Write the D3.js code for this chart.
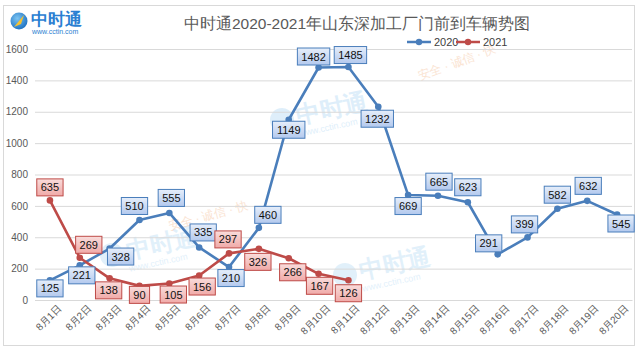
<!DOCTYPE html>
<html>
<head>
<meta charset="utf-8">
<script src="https://cdn.jsdelivr.net/npm/d3@7"></script>
<style>
  body { margin: 0; background: #fff; }
  text { font-family: "Liberation Sans", Arial, sans-serif; }
</style>
</head>
<body>
<script>
const days = ["8月1日","8月2日","8月3日","8月4日","8月5日","8月6日","8月7日","8月8日","8月9日","8月10日",
              "8月11日","8月12日","8月13日","8月14日","8月15日","8月16日","8月17日","8月18日","8月19日","8月20日"];
const v2020 = [125,221,328,510,555,335,210,460,1149,1482,1485,1232,669,665,623,291,399,582,632,545];
const v2021 = [635,269,138,90,105,156,297,326,266,167,126];
const yTicks = [0,200,400,600,800,1000,1200,1400,1600];
const title = "中时通2020-2021年山东深加工厂门前到车辆势图";

// label placement (offset from point)
const lab2020 = [[0,8],[2,10],[11,8],[-5,-14],[2,-15],[4,-15],[2,11],[9,-13],[0,10],[-5,-11],
                 [2,-12],[-1,12],[0,11],[1,-14],[0,-15],[-9,-11],[-3,-13],[0,-14],[1,-15],[4,9]];
const lab2021 = [[0,-13],[9,-13],[-1,12],[0,9],[4,11],[3,11],[-1,-14],[-1,13],[4,14],[1,12],[0,13]];

const W = 640, H = 352;
const svg = d3.select("body").append("svg").attr("width", W).attr("height", H);

const defs = svg.append("defs");
function grad(id, c1, c2) {
  const g = defs.append("linearGradient").attr("id", id).attr("x1",0).attr("y1",0).attr("x2",0).attr("y2",1);
  g.append("stop").attr("offset","0%").attr("stop-color",c1);
  g.append("stop").attr("offset","100%").attr("stop-color",c2);
}
grad("gBlue", "#e6eefa", "#b3c9ee");
grad("gRed", "#f9dcdb", "#f0aaa8");
const rg = defs.append("radialGradient").attr("id","gGlobe").attr("cx","40%").attr("cy","35%").attr("r","70%");
rg.append("stop").attr("offset","0%").attr("stop-color","#7cc4f2");
rg.append("stop").attr("offset","100%").attr("stop-color","#1a6fc0");

// outer frame
svg.append("rect").attr("x",3.5).attr("y",5.5).attr("width",631).attr("height",340)
  .attr("fill","#fff").attr("stroke","#d9d9d9");

const x = d3.scaleBand().domain(days).range([35, 632]);
const y = d3.scaleLinear().domain([0,1600]).range([300, 49]);
const cx = d => x(d) + x.bandwidth()/2;

// watermarks
function mark(px, py, s, op) {
  const g = svg.append("g").attr("transform", `translate(${px},${py}) rotate(-12) scale(${s})`).attr("opacity", op);
  g.append("circle").attr("cx",0).attr("cy",0).attr("r",12).attr("fill","#8cc6ef");
  g.append("text").attr("x",15).attr("y",7).attr("font-size",24).attr("font-weight","bold").attr("fill","#8cc6ef").text("中时通");
  g.append("text").attr("x",14).attr("y",20).attr("font-size",9).attr("fill","#8cc6ef").text("www.cctin.com");
}
mark(282, 120, 1.0, 0.28);
mark(112, 255, 1.0, 0.25);
mark(345, 275, 1.0, 0.25);
svg.append("text").attr("x",420).attr("y",80).attr("font-size",12).attr("fill","#f7c9a6").attr("opacity",0.5)
  .attr("transform","rotate(-20,420,80)").text("安全 · 诚信 · 快");
svg.append("text").attr("x",170).attr("y",230).attr("font-size",12).attr("fill","#f7c9a6").attr("opacity",0.5)
  .attr("transform","rotate(-15,170,230)").text("安全 · 诚信 · 快");

// grid
svg.append("g").attr("transform","translate(35,0)")
  .call(d3.axisLeft(y).tickValues(yTicks).tickFormat(d3.format("d")).tickSize(-597).tickPadding(7))
  .call(g => g.select(".domain").remove())
  .call(g => g.selectAll("line").attr("stroke","#d9d9d9"))
  .call(g => g.selectAll("text").attr("fill","#595959").attr("font-size",10));

// x axis
svg.append("g").attr("transform","translate(0,300)")
  .call(d3.axisBottom(x).tickSize(0).tickPadding(6))
  .call(g => g.select(".domain").attr("stroke","#d9d9d9"))
  .call(g => g.selectAll("text").attr("fill","#595959").attr("font-size",10)
     .attr("text-anchor","end").attr("dx","0.2em").attr("dy","0.9em")
     .attr("transform","rotate(-45)"));

// title
svg.append("text").attr("x",357).attr("y",29).attr("text-anchor","middle")
  .attr("font-size",15.5).attr("fill","#595959").text(title);

// logo
const logo = svg.append("g");
logo.append("circle").attr("cx",19).attr("cy",21).attr("r",8.5).attr("fill","url(#gGlobe)");
logo.append("path").attr("d","M14,27 L24,15 L21,24 Z").attr("fill","#f6c230");
logo.append("text").attr("x",31).attr("y",25).attr("font-size",17).attr("font-weight","bold")
  .attr("fill","#2b7fd2").text("中时通");
logo.append("text").attr("x",32).attr("y",34).attr("font-size",7).attr("fill","#2b7fd2").text("www.cctin.com");

// legend
const series = [
  {name:"2020", vals:v2020, color:"#4a7ebb", fill:"url(#gBlue)", lab:lab2020},
  {name:"2021", vals:v2021, color:"#be4b48", fill:"url(#gRed)", lab:lab2021}
];
const legX = [407, 456];
series.forEach((s,i) => {
  const g = svg.append("g").attr("transform",`translate(${legX[i]},42)`);
  g.append("line").attr("x1",0).attr("x2",24).attr("stroke",s.color).attr("stroke-width",2.5);
  g.append("circle").attr("cx",12).attr("r",3.2).attr("fill",s.color);
  g.append("text").attr("x",27).attr("y",4).attr("font-size",11).attr("fill","#404040").text(s.name);
});

// lines and markers
const line = d3.line().x((d,i) => cx(days[i])).y(d => y(d));
series.forEach(s => {
  svg.append("path").datum(s.vals).attr("d", line).attr("fill","none")
    .attr("stroke", s.color).attr("stroke-width",2.6).attr("stroke-linejoin","round");
  svg.selectAll(null).data(s.vals).enter().append("circle")
    .attr("cx",(d,i) => cx(days[i])).attr("cy", d => y(d)).attr("r",3.3).attr("fill",s.color);
});

// data labels
series.forEach(s => {
  const g = svg.selectAll(null).data(s.vals).enter().append("g")
    .attr("transform",(d,i) => `translate(${cx(days[i]) + s.lab[i][0]},${y(d) + s.lab[i][1]})`);
  g.append("rect")
    .attr("x", d => -(String(d).length*6.1 + 8)/2).attr("y",-8.5)
    .attr("width", d => String(d).length*6.1 + 8).attr("height",17)
    .attr("fill", s.fill).attr("stroke", s.color).attr("stroke-width",1);
  g.append("text").attr("text-anchor","middle").attr("y",4).attr("font-size",11)
    .attr("fill","#111").text(d => d);
});
</script>
</body>
</html>
